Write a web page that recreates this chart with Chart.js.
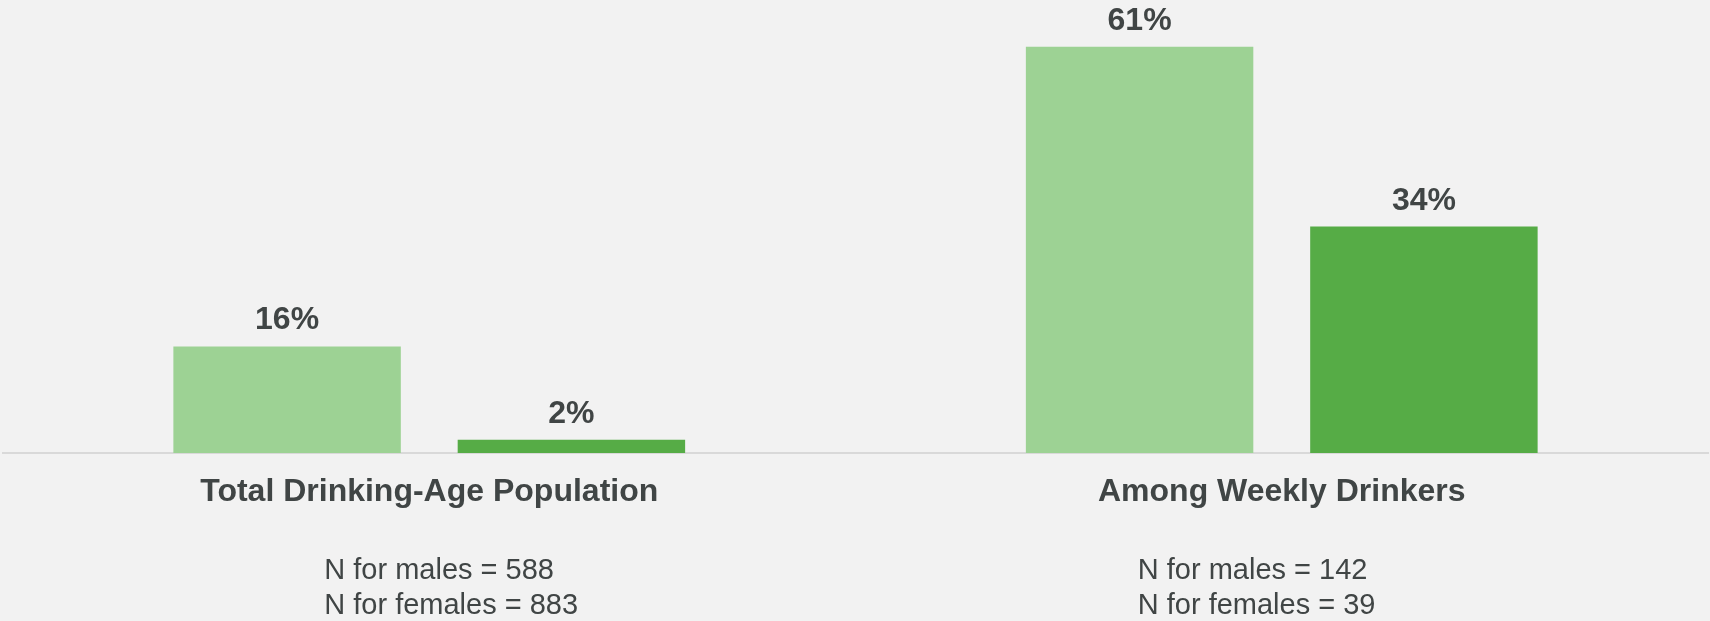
<!DOCTYPE html>
<html>
<head>
<meta charset="utf-8">
<script src="https://cdn.jsdelivr.net/npm/chart.js@4.4.1/dist/chart.umd.min.js"></script>
<style>
  html, body { margin: 0; padding: 0; background: #F2F2F2; }
  #wrap { width: 1710px; height: 621px; }
  canvas { display: block; }
</style>
</head>
<body>
<div id="wrap"><canvas id="c" width="1710" height="621"></canvas></div>
<script>
// ---- data ----
const categories = ["Total Drinking-Age Population", "Among Weekly Drinkers"];
const seriesNames = ["Males", "Females"];
const malesValues = [16, 61];
const femalesValues = [2, 34];
const sampleMales = ["N for males = 588", "N for males = 142"];
const sampleFemales = ["N for females = 883", "N for females = 39"];

// ---- styles ----
const TEXT = "#404545";
const FONT = "'Liberation Sans', Arial, sans-serif";

const valueLabels = {
  id: "valueLabels",
  afterDatasetsDraw(chart) {
    const ctx = chart.ctx;
    ctx.save();
    ctx.font = "bold 32px " + FONT;
    ctx.fillStyle = TEXT;
    ctx.textAlign = "center";
    ctx.textBaseline = "alphabetic";
    chart.data.datasets.forEach((ds, di) => {
      const meta = chart.getDatasetMeta(di);
      meta.data.forEach((el, i) => {
        ctx.fillText(ds.data[i] + "%", el.x, el.y - 17);
      });
    });
    ctx.restore();
  }
};

const sampleText = {
  id: "sampleText",
  afterDraw(chart, args, opts) {
    const ctx = chart.ctx;
    const xs = chart.scales.x;
    ctx.save();
    ctx.font = "29px " + FONT;
    ctx.fillStyle = TEXT;
    ctx.textAlign = "left";
    ctx.textBaseline = "alphabetic";
    categories.forEach((c, i) => {
      const x = xs.getPixelForTick(i) + opts.offsets[i];
      ctx.fillText(sampleMales[i], x, opts.y1);
      ctx.fillText(sampleFemales[i], x, opts.y2);
    });
    ctx.restore();
  }
};

new Chart(document.getElementById("c"), {
  type: "bar",
  data: {
    labels: categories,
    datasets: [
      { label: seriesNames[0], data: malesValues, backgroundColor: "#9DD294",
        categoryPercentage: 0.667, barPercentage: 0.8 },
      { label: seriesNames[1], data: femalesValues, backgroundColor: "#56AC46",
        categoryPercentage: 0.667, barPercentage: 0.8 }
    ]
  },
  options: {
    responsive: false,
    animation: false,
    layout: { padding: { left: 3, right: 2, top: 0, bottom: 0 } },
    plugins: {
      legend: { display: false },
      tooltip: { enabled: false },
      sampleText: { offsets: [-105, -144], y1: 579, y2: 614 }
    },
    scales: {
      x: {
        grid: { display: false, drawTicks: false },
        border: { display: true, color: "#D9D9D9", width: 2 },
        ticks: { color: TEXT, font: { family: FONT, size: 32, weight: "bold" }, padding: 20, maxRotation: 0 },
        afterFit(s) { s.height = 168; }
      },
      y: {
        display: false,
        min: 0,
        max: 68
      }
    }
  },
  plugins: [valueLabels, sampleText]
});
</script>
</body>
</html>
